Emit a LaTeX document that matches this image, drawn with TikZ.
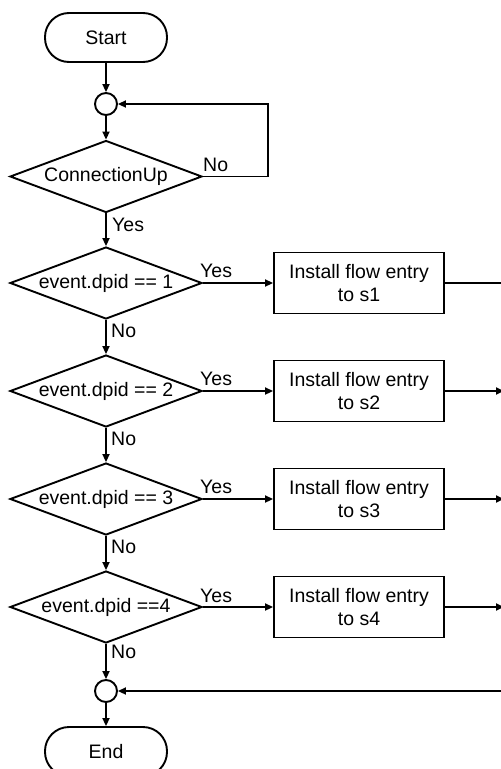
\documentclass[tikz,border=0pt]{standalone}
\usepackage{fontspec}
\setmainfont{Liberation Sans}
\usetikzlibrary{shapes.geometric,arrows.meta}

\begin{document}
\begin{tikzpicture}[
  x=1pt, y=-1pt,
  every node/.style={font=\fontsize{19.5}{23.5}\selectfont},
  flow/.style={line width=1.9pt, draw=black},
  arrow/.style={flow, -{Triangle[length=8pt,width=7pt]}},
  terminal/.style={flow, rectangle, rounded corners=24pt, minimum width=122pt, minimum height=49pt, inner sep=0pt},
  junction/.style={flow, circle, minimum size=22pt, inner sep=0pt},
  decision/.style={flow, diamond, aspect=2.667, minimum width=192pt, minimum height=72pt, inner sep=0pt},
  process/.style={flow, rectangle, minimum width=170pt, minimum height=61pt, inner sep=0pt, align=center},
  lbl/.style={inner sep=0pt, anchor=base west},
]
\useasboundingbox (0,0) rectangle (501,769);

% main column
\node[terminal] (start) at (106,37.5) {Start};
\node[junction] (j1) at (106,104) {};
\node[decision] (d0) at (106,176.5) {ConnectionUp};
\node[decision] (d1) at (106,283) {event.dpid == 1};
\node[decision] (d2) at (106,391) {event.dpid == 2};
\node[decision] (d3) at (106,499) {event.dpid == 3};
\node[decision] (d4) at (106,607) {event.dpid ==4};
\node[junction] (j2) at (106,691) {};
\node[terminal] (end) at (106,751.5) {End};

% actions
\node[process] (b1) at (359,283) {Install flow entry\\to s1};
\node[process] (b2) at (359,391) {Install flow entry\\to s2};
\node[process] (b3) at (359,499) {Install flow entry\\to s3};
\node[process] (b4) at (359,607) {Install flow entry\\to s4};

% return bus on the right
\coordinate (r0) at (268,104);
\coordinate (r0b) at (268,176.5);
\coordinate (e1) at (512,283);
\coordinate (e2) at (504,391);
\coordinate (e3) at (504,499);
\coordinate (e4) at (504,607);
\coordinate (e5) at (512,691);

% vertical flow
\draw[arrow] (start) -- (j1);
\draw[arrow] (j1) -- (d0);
\draw[arrow] (d0) -- (d1);
\draw[arrow] (d1) -- (d2);
\draw[arrow] (d2) -- (d3);
\draw[arrow] (d3) -- (d4);
\draw[arrow] (d4) -- (j2);
\draw[arrow] (j2) -- (end);

% wait loop
\draw[arrow] (d0.east) -- (r0b) -- (r0) -- (j1.east);

% branches
\draw[arrow] (d1.east) -- (b1.west);
\draw[arrow] (d2.east) -- (b2.west);
\draw[arrow] (d3.east) -- (b3.west);
\draw[arrow] (d4.east) -- (b4.west);
\draw[flow] (b1.east) -- (e1);
\draw[arrow] (b2.east) -- (e2);
\draw[arrow] (b3.east) -- (e3);
\draw[arrow] (b4.east) -- (e4);
\draw[arrow] (e5) -- (j2.east);

% labels
\node[lbl] (n0) at (203,171) {No};
\node[lbl] (y0) at (112,231) {Yes};
\node[lbl] (y1) at (200,277) {Yes};
\node[lbl] (y2) at (200,385) {Yes};
\node[lbl] (y3) at (200,493) {Yes};
\node[lbl] (y4) at (200,602) {Yes};
\node[lbl] (n1) at (111,337) {No};
\node[lbl] (n2) at (111,445) {No};
\node[lbl] (n3) at (111,553) {No};
\node[lbl] (n4) at (111,658) {No};
\end{tikzpicture}
\end{document}
